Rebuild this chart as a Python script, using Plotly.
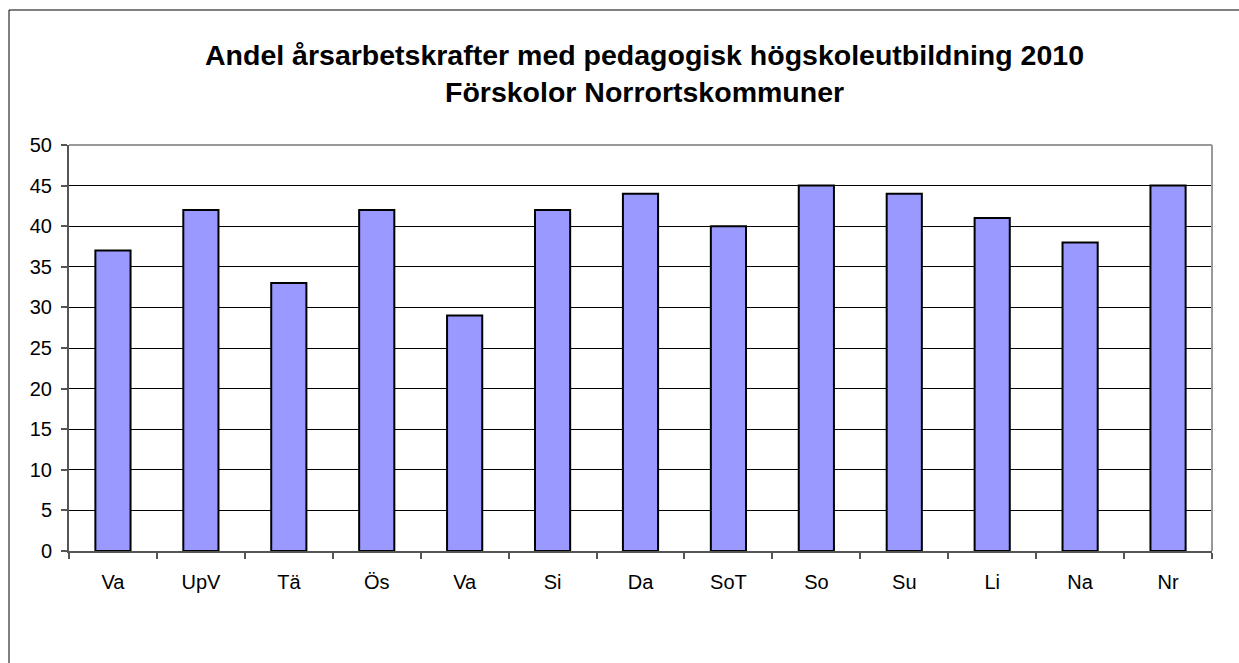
import plotly.graph_objects as go

categories = ["Va", "UpV", "Tä", "Ös", "Va", "Si", "Da", "SoT", "So", "Su", "Li", "Na", "Nr"]
values = [37, 42, 33, 42, 29, 42, 44, 40, 45, 44, 41, 38, 45]
y_ticks = [0, 5, 10, 15, 20, 25, 30, 35, 40, 45, 50]
title_line1 = "Andel årsarbetskrafter med pedagogisk högskoleutbildning 2010"
title_line2 = "Förskolor Norrortskommuner"

W, H = 1239, 663
L, R, T, B = 69, 27, 145, 112
pw = W - L - R
ph = H - T - B
n = len(categories)
positions = list(range(n))
cat_px = pw / n

FONT = "Liberation Sans, Arial, sans-serif"

fig = go.Figure()
fig.add_trace(go.Bar(
    x=positions, y=values,
    width=0.4,
    marker=dict(color="#9999FF", line=dict(color="#000000", width=2)),
    hoverinfo="x+y",
))

boundaries = [i - 0.5 for i in range(n + 1)]
fig.update_layout(
    width=W, height=H,
    margin=dict(l=L, r=R, t=T, b=B, pad=0),
    paper_bgcolor="white", plot_bgcolor="white",
    showlegend=False,
    font=dict(family=FONT, color="#000000", size=20),
    xaxis=dict(
        range=[-0.5, n - 0.5],
        tickmode="array", tickvals=boundaries,
        ticktext=categories + [""],
        ticklabelshift=int(round(cat_px / 2)),
        ticks="outside", ticklen=6, tickcolor="#555555", tickwidth=1.5,
        ticklabelstandoff=6,
        showline=True, linecolor="#555555", linewidth=2,
        showgrid=False, zeroline=False,
        tickfont=dict(size=20, family=FONT),
    ),
    yaxis=dict(
        range=[0, 50],
        tickmode="array", tickvals=y_ticks,
        ticks="outside", ticklen=6, tickcolor="#555555", tickwidth=1.5,
        ticklabelstandoff=5,
        showline=True, linecolor="#555555", linewidth=2,
        showgrid=True, gridcolor="#000000", gridwidth=1,
        zeroline=False,
        tickfont=dict(size=20, family=FONT),
    ),
)

# plot-area top and right border (gray)
fig.add_shape(type="line", xref="paper", yref="paper", x0=0, x1=1, y0=1, y1=1,
              line=dict(color="#999999", width=2), layer="above")
fig.add_shape(type="line", xref="paper", yref="paper", x0=1, x1=1, y0=0, y1=1,
              line=dict(color="#999999", width=2), layer="above")

# outer chart border: only its left and top edges fall inside the picture
bx0 = (9 - L) / pw
by_top = 1 + (T - 10) / ph
fig.add_shape(type="line", xref="paper", yref="paper",
              x0=bx0, x1=(W - L) / pw, y0=by_top, y1=by_top,
              line=dict(color="#000000", width=1), layer="below")
fig.add_shape(type="line", xref="paper", yref="paper",
              x0=bx0, x1=bx0, y0=by_top, y1=-(B / ph),
              line=dict(color="#000000", width=1), layer="below")

cx = (644 - L) / pw
fig.add_annotation(text=f"<b>{title_line1}</b>", xref="paper", yref="paper",
                   x=cx, y=1 + (T - 55) / ph, xanchor="center", yanchor="middle",
                   showarrow=False, font=dict(size=28.5, family=FONT, color="#000000"))
fig.add_annotation(text=f"<b>{title_line2}</b>", xref="paper", yref="paper",
                   x=cx, y=1 + (T - 92) / ph, xanchor="center", yanchor="middle",
                   showarrow=False, font=dict(size=28.5, family=FONT, color="#000000"))

fig.write_html("out.html", config={"displayModeBar": False},
               post_script="document.body.style.margin='0px';document.body.style.overflow='hidden';")
